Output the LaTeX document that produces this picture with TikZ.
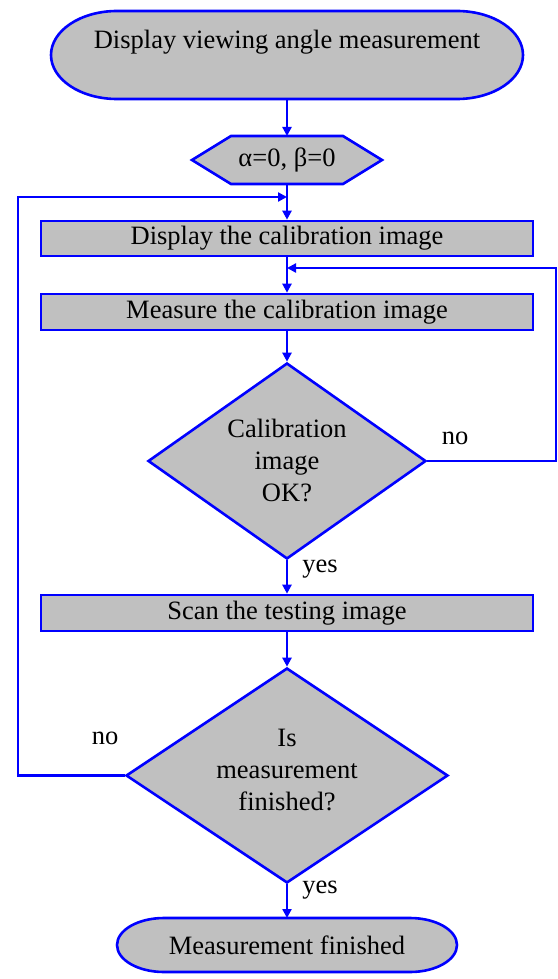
\documentclass[tikz,border=0pt]{standalone}
\usepackage{fontspec}
\setmainfont{Liberation Serif}
\usetikzlibrary{shapes.geometric,arrows.meta}
\definecolor{boxgray}{RGB}{192,192,192}
\begin{document}
\begin{tikzpicture}[x=1pt,y=1pt,
  line/.style={draw=blue, line width=2.4pt},
  arr/.style={line, -{Triangle[length=9pt,width=9pt]}},
  shapebox/.style={draw=blue, fill=boxgray, line width=2.6pt},
  txt/.style={font=\fontsize{26.5}{32}\selectfont, align=center, inner sep=0pt},
  procbox/.style={shapebox, rectangle, minimum width=492pt, minimum height=35pt, inner sep=0pt, font=\fontsize{26.5}{32}\selectfont},
  decision/.style={shapebox, diamond, inner sep=0pt}]
\useasboundingbox (0,0) rectangle (557,-979);

% start terminal
\draw[shapebox] (117,-11) -- (457,-11)
  arc[start angle=90, end angle=-90, x radius=66, y radius=44] -- (117,-99)
  arc[start angle=270, end angle=90, x radius=66, y radius=44] -- cycle;
\node[txt] (start) at (287,-42) {Display viewing angle measurement};
\coordinate (startBot) at (287,-99);

% hexagon
\draw[shapebox] (192,-160) -- (231,-136) -- (343,-136) -- (382,-160) -- (343,-184) -- (231,-184) -- cycle;
\node[txt] (init) at (287,-160) {α=0, β=0};
\coordinate (hexTop) at (287,-136);
\coordinate (hexBot) at (287,-184);

% process boxes
\node[procbox] (disp) at (287,-238.5) {Display the calibration image};
\node[procbox, minimum height=36pt] (meas) at (287,-312) {Measure the calibration image};

% decision 1
\node[decision, minimum width=278pt, minimum height=196pt] (d1) at (287,-461) {};
\node[txt] (d1t) at (287,-460) {Calibration\\image\\OK?};

\node[procbox, minimum height=36pt] (scan) at (287,-613) {Scan the testing image};

% decision 2
\node[decision, minimum width=322pt, minimum height=215pt] (d2) at (287,-775.5) {};
\node[txt] (d2t) at (287,-770) {Is\\measurement\\finished?};

% end terminal
\draw[shapebox] (164,-918) -- (410,-918)
  arc[start angle=90, end angle=-90, x radius=47, y radius=27] -- (164,-972)
  arc[start angle=270, end angle=90, x radius=47, y radius=27] -- cycle;
\node[txt] (stop) at (287,-945) {Measurement finished};
\coordinate (stopTop) at (287,-918);

% loop coordinates
\coordinate (loopA) at (18,-775.5);
\coordinate (loopB) at (18,-197);
\coordinate (loopC) at (287,-197);
\coordinate (rloopA) at (556,-461);
\coordinate (rloopB) at (556,-268);
\coordinate (rloopC) at (287,-268);

% connectors
\draw[arr] (startBot) -- (hexTop);
\draw[arr] (hexBot) -- (disp.north);
\draw[arr] (disp.south) -- (meas.north);
\draw[arr] (meas.south) -- (d1.north);
\draw[arr] (d1.south) -- (scan.north);
\draw[arr] (scan.south) -- (d2.north);
\draw[arr] (d2.south) -- (stopTop);
\draw[arr] (d2.west) -- (loopA) -- (loopB) -- (loopC);
\draw[arr] (d1.east) -- (rloopA) -- (rloopB) -- (rloopC);

% labels
\node[txt] (no1) at (455,-438) {no};
\node[txt] (yes1) at (320,-569) {yes};
\node[txt] (no2) at (105,-738) {no};
\node[txt] (yes2) at (320,-890) {yes};
\end{tikzpicture}
\end{document}
